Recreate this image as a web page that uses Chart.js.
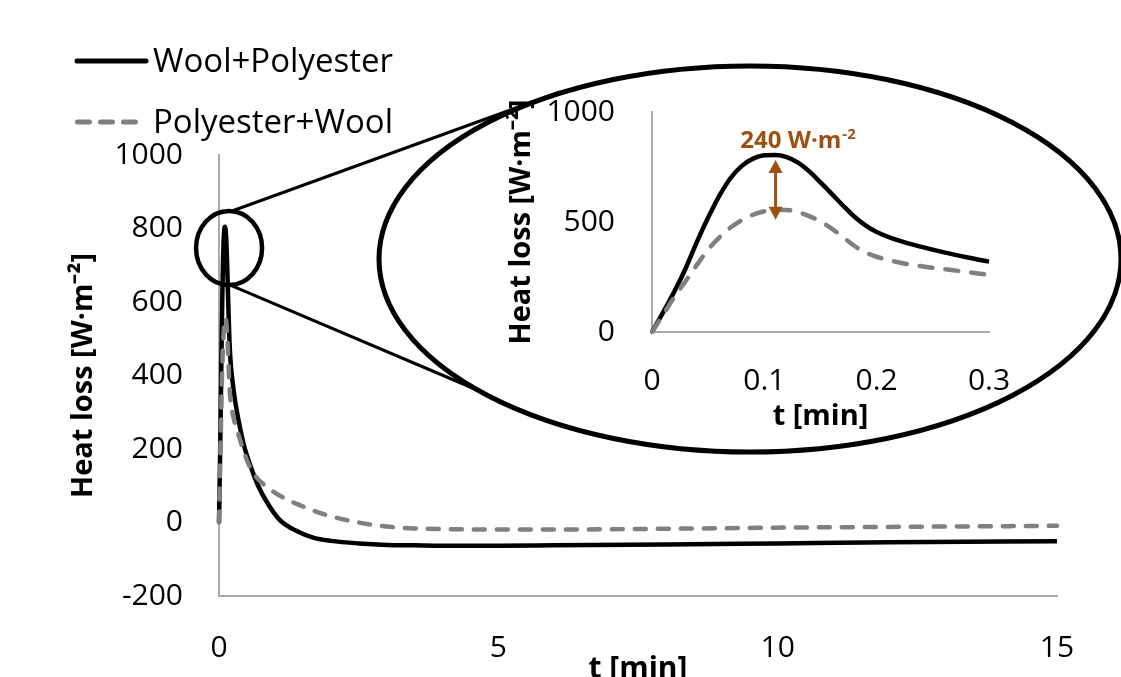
<!DOCTYPE html>
<html>
<head>
<meta charset="utf-8">
<script src="https://cdn.jsdelivr.net/npm/chart.js@4.4.1/dist/chart.umd.min.js"></script>
<style>
  html, body { margin: 0; padding: 0; background: #fff; overflow: hidden; }
  #wrap { position: relative; width: 1121px; height: 677px; overflow: hidden; }
  #main { position: absolute; left: 0; top: 0; }
  #inset { position: absolute; left: 490px; top: 52px; }
  .leg { position: absolute; left: 72px; height: 40px; display: flex; align-items: center;
         font-family: 'Open Sans', sans-serif; font-size: 33px; line-height: 40px; color: #000; white-space: nowrap; }
  .leg svg { flex: none; }
</style>
</head>
<body>
<div id="wrap">
  <canvas id="main" width="1121" height="700"></canvas>
  <canvas id="inset" width="560" height="388"></canvas>
  <div class="leg" style="top:40px">
    <svg width="81" height="40"><line x1="5" y1="21" x2="74" y2="21" stroke="#000" stroke-width="5" stroke-linecap="round"/></svg><span>Wool+Polyester</span>
  </div>
  <div class="leg" style="top:101px">
    <svg width="81" height="40"><line x1="5.5" y1="21" x2="64" y2="21" stroke="#808080" stroke-width="5" stroke-linecap="round" stroke-dasharray="12 11"/></svg><span>Polyester+Wool</span>
  </div>
</div>
<script>
// time [min]
var tMin = [0, 0.01, 0.02, 0.03, 0.04, 0.05, 0.06, 0.07, 0.08, 0.09, 0.10,
            0.11, 0.12, 0.13, 0.14, 0.15, 0.16, 0.17, 0.18, 0.19, 0.20,
            0.22, 0.24, 0.26, 0.28, 0.30, 0.35, 0.45, 0.55, 0.7, 0.9,
            1.1, 1.4, 1.7, 2.0, 2.5, 3.0, 3.5, 4, 5, 6, 8, 10, 12, 15];
// heat loss [W/m2]
var woolPolyester = [0, 90, 185, 290, 410, 520, 620, 700, 755, 788, 803,
                     805, 795, 770, 730, 680, 628, 575, 525, 485, 455,
                     415, 387, 362, 340, 320, 278, 208, 160, 100, 45,
                     5, -24, -42, -50, -57, -61, -62, -63, -63, -62, -60, -57, -54, -51];
var polyesterWool = [0, 80, 160, 232, 305, 375, 430, 475, 508, 533, 549,
                     556, 555, 545, 527, 502, 470, 432, 392, 362, 342,
                     316, 299, 286, 273, 260, 238, 190, 152, 118, 92,
                     72, 50, 32, 17, 0, -11, -16, -18, -19, -19, -17, -14, -12, -9];

var mainTicksY = [-200, 0, 200, 400, 600, 800, 1000];
var mainTicksX = [0, 5, 10, 15];
var insetTicksY = [0, 500, 1000];
var insetTicksX = [0, 0.1, 0.2, 0.3];

// zoom lens position (data units of main chart) and gap arrow position (inset)
var lensT = 0.18, lensV = 747;
var gapT = 0.11;
var gapText = '240 W·m', gapSup = '-2';

var yTitle = 'Heat loss [W·m⁻²]';
var xTitle = 't [min]';
var brown = '#9e5010';

Chart.defaults.font.family = "'Open Sans', sans-serif";
Chart.defaults.color = '#000';

function xy(ts, vs) {
    var out = [];
    for (var i = 0; i < ts.length; i++) out.push({x: ts[i], y: vs[i]});
    return out;
}

function plain(v) { return String(v); }

function datasets(wBlack, wDash, dash) {
    return [
        {
            label: 'Polyester+Wool',
            data: xy(tMin, polyesterWool),
            borderColor: '#808080',
            borderWidth: wDash,
            borderDash: dash,
            borderCapStyle: 'round',
            pointRadius: 0,
            cubicInterpolationMode: 'monotone',
            order: 0,
            clip: {left: 5, top: 5, right: 5, bottom: 5}
        },
        {
            label: 'Wool+Polyester',
            data: xy(tMin, woolPolyester),
            borderColor: '#000',
            borderWidth: wBlack,
            pointRadius: 0,
            cubicInterpolationMode: 'monotone',
            order: 1,
            clip: {left: 5, top: 5, right: 5, bottom: 5}
        }
    ];
}

var lensPlugin = {
    id: 'lens',
    afterDatasetsDraw: function(chart) {
        var ctx = chart.ctx;
        var cx = chart.scales.x.getPixelForValue(lensT);
        var cy = chart.scales.y.getPixelForValue(lensV);
        ctx.save();
        ctx.strokeStyle = '#000';
        ctx.lineWidth = 3;
        ctx.beginPath();
        ctx.moveTo(cx + 3, cy - 37);
        ctx.lineTo(560, 92);
        ctx.moveTo(cx + 3, cy + 38);
        ctx.lineTo(482, 392);
        ctx.stroke();
        // big ellipse holding the inset
        ctx.beginPath();
        ctx.ellipse(750, 259, 371, 193, 0, 0, Math.PI * 2);
        ctx.fillStyle = '#fff';
        ctx.fill();
        ctx.lineWidth = 5;
        ctx.stroke();
        // small circle around the peak
        ctx.beginPath();
        ctx.ellipse(cx, cy, 33, 37, 0, 0, Math.PI * 2);
        ctx.lineWidth = 4.5;
        ctx.stroke();
        ctx.restore();
    }
};

var gapPlugin = {
    id: 'gap',
    afterDatasetsDraw: function(chart) {
        var ctx = chart.ctx;
        var i = tMin.indexOf(gapT);
        var px = chart.scales.x.getPixelForValue(gapT);
        var yTop = chart.scales.y.getPixelForValue(woolPolyester[i]) + 5;
        var yBot = chart.scales.y.getPixelForValue(polyesterWool[i]) + 10;
        var h = 13, w = 7;
        ctx.save();
        ctx.strokeStyle = brown;
        ctx.fillStyle = brown;
        ctx.lineWidth = 3;
        ctx.beginPath();
        ctx.moveTo(px, yTop + h - 2);
        ctx.lineTo(px, yBot - h + 2);
        ctx.stroke();
        ctx.beginPath();
        ctx.moveTo(px, yTop);
        ctx.lineTo(px - w, yTop + h);
        ctx.lineTo(px + w, yTop + h);
        ctx.closePath();
        ctx.moveTo(px, yBot);
        ctx.lineTo(px - w, yBot - h);
        ctx.lineTo(px + w, yBot - h);
        ctx.closePath();
        ctx.fill();
        // label
        ctx.font = "bold 24px 'Open Sans', sans-serif";
        var w1 = ctx.measureText(gapText).width;
        ctx.font = "bold 15px 'Open Sans', sans-serif";
        var w2 = ctx.measureText(gapSup).width;
        var x0 = px + 22 - (w1 + w2) / 2;
        var base = yTop - 12;
        ctx.textBaseline = 'alphabetic';
        ctx.textAlign = 'left';
        ctx.font = "bold 24px 'Open Sans', sans-serif";
        ctx.fillText(gapText, x0, base);
        ctx.font = "bold 15px 'Open Sans', sans-serif";
        ctx.fillText(gapSup, x0 + w1 + 1, base - 9);
        ctx.restore();
    }
};

new Chart(document.getElementById('main'), {
    type: 'line',
    data: { datasets: datasets(4.5, 4.5, [11, 12]) },
    plugins: [lensPlugin],
    options: {
        responsive: false,
        animation: false,
        layout: { padding: { top: 155, right: 64, left: 0, bottom: 0 } },
        plugins: { legend: { display: false }, tooltip: { enabled: false } },
        scales: {
            x: {
                type: 'linear', min: 0, max: 15,
                afterBuildTicks: function(s) { s.ticks = mainTicksX.map(function(v) { return {value: v}; }); },
                afterFit: function(s) { s.height = 104; },
                ticks: { padding: 34, maxRotation: 0, font: { size: 30 }, callback: plain },
                grid: { display: false, drawTicks: false },
                border: { color: '#aaaaaa', width: 2 },
                title: { display: true, text: xTitle, font: { size: 30, weight: 'bold' }, padding: { top: 0, bottom: 13 } }
            },
            y: {
                type: 'linear', min: -200, max: 1000,
                afterBuildTicks: function(s) { s.ticks = mainTicksY.map(function(v) { return {value: v}; }); },
                afterFit: function(s) { s.width = 219; },
                ticks: { padding: 36, font: { size: 30 }, callback: plain },
                grid: { display: false, drawTicks: false },
                border: { color: '#aaaaaa', width: 2 },
                title: { display: true, text: yTitle, font: { size: 29, weight: 'bold' }, padding: { top: 66, bottom: 0 } }
            }
        }
    }
});

new Chart(document.getElementById('inset'), {
    type: 'line',
    data: { datasets: datasets(4.5, 4.5, [13, 13]) },
    plugins: [gapPlugin],
    options: {
        responsive: false,
        animation: false,
        layout: { padding: { top: 60, right: 61, left: 0, bottom: 0 } },
        plugins: { legend: { display: false }, tooltip: { enabled: false } },
        scales: {
            x: {
                type: 'linear', min: 0, max: 0.3,
                afterBuildTicks: function(s) { s.ticks = insetTicksX.map(function(v) { return {value: v}; }); },
                afterFit: function(s) { s.height = 108; },
                ticks: { padding: 31, maxRotation: 0, font: { size: 30 }, callback: plain },
                grid: { display: false, drawTicks: false },
                border: { color: '#aaaaaa', width: 2 },
                title: { display: true, text: xTitle, font: { size: 29, weight: 'bold' }, padding: { top: 0, bottom: 6 } }
            },
            y: {
                type: 'linear', min: 0, max: 1000,
                afterBuildTicks: function(s) { s.ticks = insetTicksY.map(function(v) { return {value: v}; }); },
                afterFit: function(s) { s.width = 162; },
                ticks: { padding: 37, font: { size: 30 }, callback: plain },
                grid: { display: false, drawTicks: false },
                border: { color: '#aaaaaa', width: 2 },
                title: { display: true, text: yTitle, font: { size: 29, weight: 'bold' }, padding: { top: 14, bottom: 0 } }
            }
        }
    }
});
</script>
</body>
</html>
